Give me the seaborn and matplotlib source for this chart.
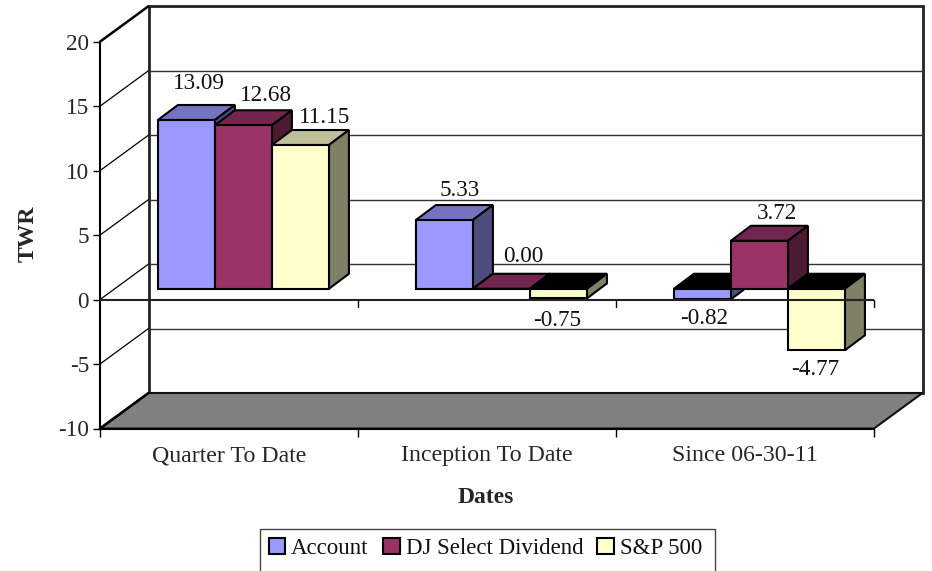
import pandas as pd
import seaborn as sns
import matplotlib
matplotlib.use('Agg')
import matplotlib.pyplot as plt
from matplotlib.patches import Polygon, Rectangle

# values
dates = ['Quarter To Date', 'Inception To Date', 'Since 06-30-11']
account = [13.09, 5.33, -0.82]
dj_select = [12.68, 0.00, 3.72]
sp500 = [11.15, -0.75, -4.77]
series_names = ['Account', 'DJ Select Dividend', 'S&P 500']
y_ticks = [-10, -5, 0, 5, 10, 15, 20]

face_colors = ['#9999FF', '#993366', '#FFFFCC']
top_colors = ['#7373BF', '#73264D', '#BFBF99']
side_colors = ['#4D4D80', '#4D1A33', '#808066']

sns.set_style('white')
plt.rcParams['font.family'] = ['Liberation Serif', 'DejaVu Sans']
plt.rcParams['font.size'] = 16.7
plt.rcParams['text.color'] = '#111111'
plt.rcParams['axes.unicode_minus'] = False

df = pd.DataFrame({'Dates': dates, series_names[0]: account,
                   series_names[1]: dj_select, series_names[2]: sp500})
df = df.melt(id_vars='Dates', var_name='Series', value_name='TWR')

W, H = 932, 571
fig = plt.figure(figsize=(W / 100, H / 100), dpi=100)
ax = fig.add_axes([100 / W, 1 - 428.5 / H, 774 / W, 386.8 / H])

sns.barplot(data=df, x='Dates', y='TWR', hue='Series', order=dates,
            hue_order=series_names, palette=face_colors, saturation=1,
            width=0.663, gap=0, edgecolor='black', linewidth=1.5, ax=ax)
ax.set_xlim(-0.5, 2.5)
ax.set_ylim(-10, 20)

# pixel sizes as data units
px = 3 / 774
py = 30 / 386.8
wall_dx, wall_dy = 48.5 * px, 35.5 * py
bar_dx, bar_dy = 20 * px, 15 * py
shift_x, shift_y = 14.4 * px, 10.8 * py

# walls and floor
ax.add_patch(Rectangle((-0.5 + wall_dx, -10 + wall_dy), 3, 30, fc='white', ec='#222222',
                       lw=2, clip_on=False, zorder=0.5))
ax.add_patch(Polygon([(-0.5, -10), (-0.5 + wall_dx, -10 + wall_dy),
                      (2.5 + wall_dx, -10 + wall_dy), (2.5, -10)],
                     fc='#808080', ec='#111111', lw=1.5, clip_on=False, zorder=0.7))
ax.plot([-0.5, -0.5 + wall_dx], [20, 20 + wall_dy], color='black', lw=1.8,
        clip_on=False, zorder=1)
ax.plot([-0.5, -0.5 + wall_dx], [-10, -10 + wall_dy], color='black', lw=1.8,
        clip_on=False, zorder=1)
for t in y_ticks[1:-1]:
    ax.plot([-0.5, -0.5 + wall_dx], [t, t + wall_dy], color='black', lw=0.9,
            clip_on=False, zorder=1)
    ax.plot([-0.5 + wall_dx, 2.5 + wall_dx], [t + wall_dy, t + wall_dy], color='#333333',
            lw=1.0, clip_on=False, zorder=1)

# move the flat bars and add their top and side faces
for s, cont in enumerate(ax.containers):
    for c, bar in enumerate(cont):
        z = 3 + c * 3 + s * 0.5
        bar.set_x(bar.get_x() + shift_x)
        bar.set_y(bar.get_y() + shift_y)
        bar.set_zorder(z + 0.2)
        x0, x1 = bar.get_x(), bar.get_x() + bar.get_width()
        top = max(bar.get_y(), bar.get_y() + bar.get_height())
        bot = min(bar.get_y(), bar.get_y() + bar.get_height())
        val = bar.get_y() + bar.get_height() - shift_y
        top_col = 'black' if val < 0 else top_colors[s]
        ax.add_patch(Polygon([(x0, top), (x0 + bar_dx, top + bar_dy),
                              (x1 + bar_dx, top + bar_dy), (x1, top)],
                             fc=top_col, ec='black', lw=1.5, zorder=z, clip_on=False))
        ax.add_patch(Polygon([(x1, bot), (x1 + bar_dx, bot + bar_dy),
                              (x1 + bar_dx, top + bar_dy), (x1, top)],
                             fc=side_colors[s], ec='black', lw=1.5, zorder=z, clip_on=False))

# value labels, nudged in pixels from the front face
nudges = [[(13, 36), (23, 30), (24, 28)],
          [(15, 30), (22, 32), (-1, -22)],
          [(2, -19), (18, 27), (-1, -19)]]
for s, vals in enumerate([account, dj_select, sp500]):
    for c, v in enumerate(vals):
        bar = ax.containers[s][c]
        xc = bar.get_x() + bar.get_width() / 2
        ax.annotate(f'{v:.2f}', (xc, v + shift_y), xytext=nudges[c][s],
                    textcoords='offset pixels', ha='center', va='center',
                    zorder=30, annotation_clip=False)

# axis at zero sits in front of the bars
ax.axhline(0, color='#222222', lw=1.5, zorder=25)
for x in [0.5, 1.5, 2.5]:
    ax.plot([x, x], [0, -7 * py], color='black', lw=1, clip_on=False, zorder=25)

sns.despine(ax=ax)
ax.spines['left'].set_linewidth(1.5)
ax.spines['bottom'].set_linewidth(1.5)
ax.spines['left'].set_color('black')
ax.spines['bottom'].set_color('black')
ax.set_yticks(y_ticks)
ax.set_xticks([-0.5, 0.5, 1.5, 2.5])
ax.set_xticklabels([])
ax.set_xticks([0, 1, 2], labels=dates, minor=True)
ax.tick_params(axis='x', which='major', bottom=True, length=5.8, width=1, color='black')
ax.tick_params(axis='x', which='minor', bottom=False, pad=10, labelsize=17.2)
ax.tick_params(axis='y', left=True, length=5, width=1, color='black', pad=3, labelsize=16.7)

ax.set_xlabel('Dates', fontweight='bold', fontsize=17, va='center')
ax.set_ylabel('TWR', fontweight='bold', fontsize=17, va='center')
ax.xaxis.set_label_coords(0.4987, -0.179)
ax.yaxis.set_label_coords(-0.0925, 0.503)

sns.move_legend(ax, loc='center left', bbox_to_anchor=(268.5 / W, 1 - 548.5 / H),
                bbox_transform=fig.transFigure, ncol=3, frameon=False, title=None,
                fontsize=16.5, handlelength=0.73, handleheight=0.73, handletextpad=0.26,
                columnspacing=0.62, borderpad=0, borderaxespad=0)
fig.add_artist(Rectangle((260 / W, -0.02), 455 / W, 0.02 + 1 - 529 / H, fill=False,
                         ec='#444444', lw=1, transform=fig.transFigure))

fig.savefig('out.png', dpi=100)
